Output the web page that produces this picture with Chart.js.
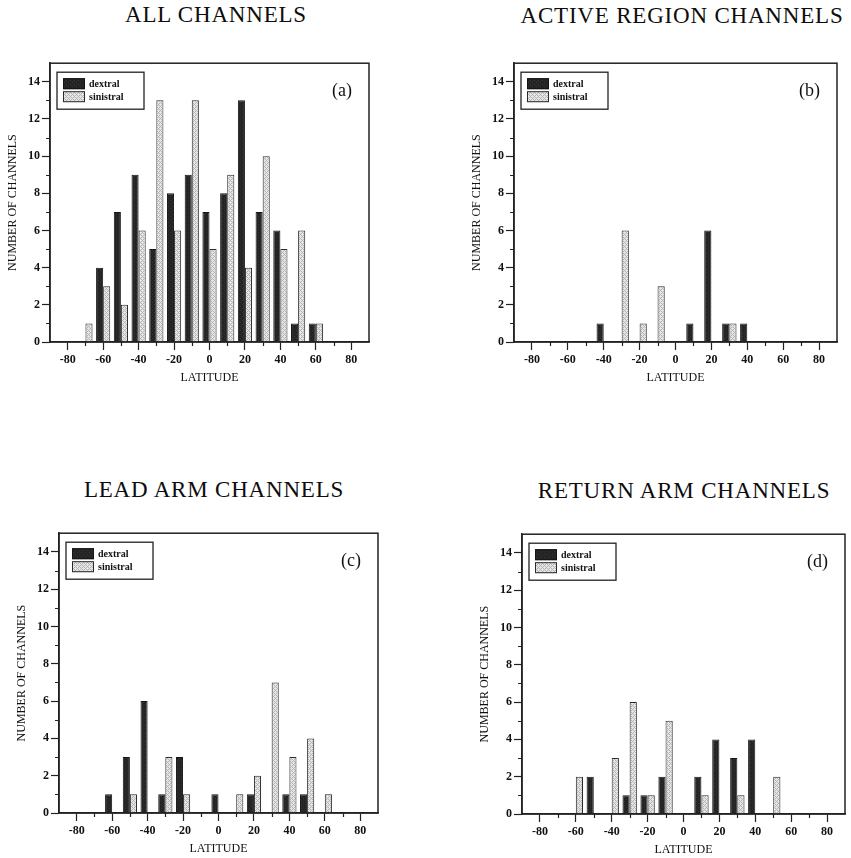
<!DOCTYPE html>
<html>
<head>
<meta charset="utf-8">
<script src="https://cdn.jsdelivr.net/npm/chart.js@4.4.0/dist/chart.umd.min.js"></script>
<style>
  html, body { margin: 0; padding: 0; background: #fff; overflow: hidden; }
  body { width: 851px; height: 858px; position: relative; }
  .ttl {
    position: absolute; font-family: 'Liberation Serif', 'Times New Roman', serif;
    font-size: 23px; letter-spacing: 0.8px; color: #0d0d0d; white-space: nowrap;
    transform: translateX(-50%); line-height: 1;
  }
  canvas { position: absolute; }
</style>
</head>
<body>
<div class="ttl" style="left:216px;top:3px">ALL CHANNELS</div>
<div class="ttl" style="left:682px;top:4px">ACTIVE REGION CHANNELS</div>
<div class="ttl" style="left:214px;top:478px">LEAD ARM CHANNELS</div>
<div class="ttl" style="left:684px;top:479px">RETURN ARM CHANNELS</div>

<canvas id="chartA" width="371" height="332" style="left:4px;top:54px"></canvas>
<canvas id="chartB" width="375" height="332" style="left:468px;top:54px"></canvas>
<canvas id="chartC" width="371" height="333" style="left:13px;top:524px"></canvas>
<canvas id="chartD" width="375" height="333" style="left:476px;top:525px"></canvas>

<script>
// latitude bins (degrees), bin centres
const latitudes = [-70, -60, -50, -40, -30, -20, -10, 0, 10, 20, 30, 40, 50, 60];

// (a) all channels
const allDextral    = [0, 4, 7, 9, 5, 8, 9, 7, 8, 13, 7, 6, 1, 1];
const allSinistral  = [1, 3, 2, 6, 13, 6, 13, 5, 9, 4, 10, 5, 6, 1];
// (b) active region channels
const arDextral     = [0, 0, 0, 1, 0, 0, 0, 0, 1, 6, 1, 1, 0, 0];
const arSinistral   = [0, 0, 0, 0, 6, 1, 3, 0, 0, 0, 1, 0, 0, 0];
// (c) lead arm channels
const leadDextral   = [0, 1, 3, 6, 1, 3, 0, 1, 0, 1, 0, 1, 1, 0];
const leadSinistral = [0, 0, 1, 0, 3, 1, 0, 0, 1, 2, 7, 3, 4, 1];
// (d) return arm channels
const retDextral    = [0, 0, 2, 0, 1, 1, 2, 0, 2, 4, 3, 4, 0, 0];
const retSinistral  = [0, 2, 0, 3, 6, 1, 5, 0, 1, 0, 1, 0, 2, 0];

// labelled ticks
const latTicks = [-80, -60, -40, -20, 0, 20, 40, 60, 80];
const countTicks = [0, 2, 4, 6, 8, 10, 12, 14];

Chart.defaults.font.family = "'Liberation Serif', 'Times New Roman', serif";
Chart.defaults.color = '#111';

function makePattern(base, dot, pts) {
  const c = document.createElement('canvas');
  c.width = 4; c.height = 4;
  const g = c.getContext('2d');
  g.fillStyle = base;
  g.fillRect(0, 0, 4, 4);
  g.fillStyle = dot;
  pts.forEach(p => g.fillRect(p[0], p[1], 1, 1));
  return g.createPattern(c, 'repeat');
}

const dextralFill = makePattern('#242424', '#353535', [[0, 0], [2, 2]]);
const sinistralFill = makePattern('#e6e6e6', '#b4b4b4', [[0, 0], [1, 1], [2, 2], [3, 3], [1, 3], [3, 1]]);

// frame, minor ticks, legend box and panel letter
const panelDeco = {
  id: 'panelDeco',
  afterDraw(chart, args, opts) {
    const { ctx, chartArea: a, scales: { x, y } } = chart;
    ctx.save();
    ctx.strokeStyle = '#222';
    ctx.lineWidth = 1.2;
    ctx.beginPath();
    x.ticks.forEach(t => {
      if (!latTicks.includes(t.value) && Math.abs(t.value) < 90) {
        const px = Math.round(x.getPixelForValue(t.value)) + 0.5;
        ctx.moveTo(px, a.bottom);
        ctx.lineTo(px, a.bottom + 4);
      }
    });
    y.ticks.forEach(t => {
      if (!countTicks.includes(t.value) && t.value < 15) {
        const py = Math.round(y.getPixelForValue(t.value)) + 0.5;
        ctx.moveTo(a.left - 4, py);
        ctx.lineTo(a.left, py);
      }
    });
    ctx.stroke();

    ctx.lineWidth = 1.5;
    ctx.strokeRect(a.left, a.top, a.right - a.left, a.bottom - a.top);

    const lx = a.left + 7, ly = a.top + 9;
    ctx.lineWidth = 1.3;
    ctx.strokeRect(lx, ly, 87, 37);
    chart.data.datasets.forEach((ds, i) => {
      const sy = ly + 6 + i * 13;
      ctx.fillStyle = ds.backgroundColor;
      ctx.fillRect(lx + 6, sy, 22, 11);
      ctx.lineWidth = 1;
      ctx.strokeStyle = ds.borderColor;
      ctx.strokeRect(lx + 6.5, sy + 0.5, 21, 10);
      ctx.fillStyle = '#111';
      ctx.font = "bold 10px 'Liberation Serif'";
      ctx.textAlign = 'left';
      ctx.textBaseline = 'middle';
      ctx.fillText(ds.label, lx + 32, sy + 6);
    });

    ctx.fillStyle = '#111';
    ctx.font = "18px 'Liberation Serif'";
    ctx.textAlign = 'right';
    ctx.textBaseline = 'alphabetic';
    ctx.fillText(opts.letter, a.right - 17, a.top + 33);
    ctx.restore();
  }
};

function buildChart(id, dex, sin, letter) {
  return new Chart(document.getElementById(id), {
    type: 'bar',
    data: {
      labels: latitudes,
      datasets: [
        { label: 'dextral', data: dex, backgroundColor: dextralFill, borderColor: '#151515',
          borderWidth: 1, categoryPercentage: 0.8, barPercentage: 1.0 },
        { label: 'sinistral', data: sin, backgroundColor: sinistralFill, borderColor: '#2a2a2a',
          borderWidth: 1, categoryPercentage: 0.8, barPercentage: 1.0 }
      ]
    },
    options: {
      responsive: false,
      animation: false,
      events: [],
      layout: { padding: { top: 8, right: 6, left: 0, bottom: 0 } },
      plugins: {
        legend: { display: false },
        tooltip: { enabled: false },
        panelDeco: { letter: letter }
      },
      scales: {
        x: {
          type: 'linear',
          min: -90,
          max: 90,
          offset: false,
          afterFit: s => { s.height = 44; },
          grid: {
            drawOnChartArea: false,
            offset: false,
            tickLength: 8,
            tickWidth: 1.2,
            tickColor: c => latTicks.includes(c.tick.value) ? '#222' : 'rgba(0,0,0,0)'
          },
          border: { color: '#222', width: 1.5 },
          ticks: {
            stepSize: 10,
            autoSkip: false,
            maxRotation: 0,
            padding: 3,
            font: { size: 12, weight: 'bold' },
            callback: v => latTicks.includes(v) ? String(v) : ''
          },
          title: { display: true, text: 'LATITUDE', font: { size: 12 }, padding: { top: 0, bottom: 1 } }
        },
        y: {
          min: 0,
          max: 15,
          afterFit: s => { s.width = 46; },
          grid: {
            drawOnChartArea: false,
            tickLength: 8,
            tickWidth: 1.2,
            tickColor: c => countTicks.includes(c.tick.value) ? '#222' : 'rgba(0,0,0,0)'
          },
          border: { color: '#222', width: 1.5 },
          ticks: {
            stepSize: 1,
            autoSkip: false,
            padding: 2,
            font: { size: 12, weight: 'bold' },
            callback: v => countTicks.includes(v) ? String(v) : ''
          },
          title: { display: true, text: 'NUMBER OF CHANNELS', font: { size: 12 }, padding: { top: 2, bottom: 0 } }
        }
      }
    },
    plugins: [panelDeco]
  });
}

buildChart('chartA', allDextral, allSinistral, '(a)');
buildChart('chartB', arDextral, arSinistral, '(b)');
buildChart('chartC', leadDextral, leadSinistral, '(c)');
buildChart('chartD', retDextral, retSinistral, '(d)');
</script>
</body>
</html>
